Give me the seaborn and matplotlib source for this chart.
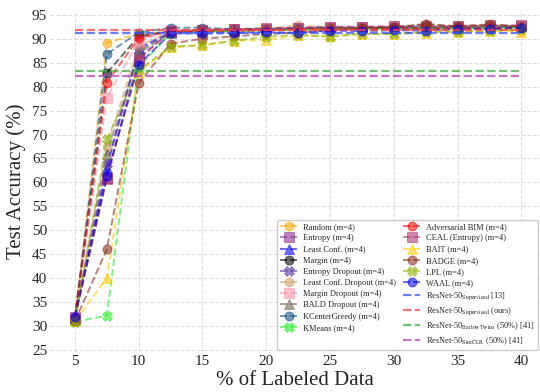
import numpy as np
import pandas as pd
import matplotlib
matplotlib.use("Agg")
import matplotlib.pyplot as plt
import seaborn as sns

pct = [5, 7.5, 10, 12.5, 15, 17.5, 20, 22.5, 25, 27.5, 30, 32.5, 35, 37.5, 40]

random_acc = [31.0, 89.2, 91.0, 91.5, 91.6, 91.7, 91.8, 92.0, 92.1, 92.0, 92.2, 92.0, 92.2, 92.1, 91.6]
entropy_acc = [32.0, 61.0, 86.0, 91.5, 91.8, 92.0, 92.0, 92.2, 92.3, 92.4, 92.3, 92.5, 92.4, 92.6, 92.7]
leastconf_acc = [32.0, 63.0, 88.0, 91.4, 91.7, 91.8, 92.0, 92.1, 92.2, 92.2, 92.3, 92.4, 92.3, 92.5, 92.6]
margin_acc = [31.8, 82.8, 90.5, 91.6, 91.8, 91.9, 92.0, 92.2, 92.3, 92.3, 92.4, 92.4, 92.5, 92.7, 92.5]
entropy_do_acc = [31.8, 63.8, 87.5, 91.3, 91.6, 91.8, 92.0, 92.1, 92.2, 92.2, 92.3, 92.3, 92.4, 92.4, 92.5]
leastconf_do_acc = [31.5, 67.4, 88.5, 91.5, 91.8, 91.9, 92.0, 92.9, 92.2, 92.3, 92.2, 92.5, 92.4, 92.5, 92.6]
margin_do_acc = [31.5, 77.7, 89.5, 91.8, 91.9, 92.0, 92.1, 92.3, 92.5, 92.4, 92.6, 92.5, 92.6, 92.7, 92.7]
bald_do_acc = [31.7, 66.0, 87.0, 91.2, 91.5, 91.6, 91.9, 92.0, 92.3, 92.2, 92.3, 93.0, 92.4, 92.5, 92.6]
kcenter_acc = [31.5, 86.8, 91.3, 92.3, 92.3, 92.0, 92.1, 92.2, 92.3, 92.2, 92.4, 92.3, 92.4, 92.3, 92.5]
kmeans_acc = [30.9, 32.2, 84.0, 91.2, 91.5, 91.6, 91.8, 91.9, 92.0, 92.1, 92.0, 92.2, 92.1, 92.3, 92.4]
advbim_acc = [31.7, 80.8, 90.2, 91.5, 91.6, 91.7, 91.8, 91.9, 92.0, 92.0, 92.1, 92.1, 92.2, 92.2, 92.3]
ceal_acc = [31.8, 60.8, 85.6, 91.6, 91.9, 92.0, 92.2, 92.3, 92.5, 92.5, 92.6, 92.6, 92.7, 92.8, 92.8]
bait_acc = [31.0, 40.0, 83.0, 88.2, 88.6, 89.6, 89.7, 90.7, 90.6, 91.0, 91.0, 91.3, 91.4, 91.6, 91.5]
badge_acc = [31.0, 46.0, 80.7, 89.0, 90.0, 90.5, 91.0, 91.3, 91.8, 92.3, 92.4, 93.1, 92.6, 93.0, 92.5]
lpl_acc = [30.8, 69.0, 83.5, 88.3, 88.7, 89.6, 90.4, 90.8, 90.4, 91.0, 91.0, 91.4, 91.5, 91.7, 92.0]
waal_acc = [32.0, 61.4, 84.6, 91.1, 91.1, 91.2, 91.4, 91.2, 91.7, 91.6, 91.8, 91.7, 92.0, 92.0, 92.3]

method_names = ["Random (m=4)", "Entropy (m=4)", "Least Conf. (m=4)", "Margin (m=4)",
                "Entropy Dropout (m=4)", "Least Conf. Dropout (m=4)", "Margin Dropout (m=4)",
                "BALD Dropout (m=4)", "KCenterGreedy (m=4)", "KMeans (m=4)",
                "Adversarial BIM (m=4)", "CEAL (Entropy) (m=4)", "BAIT (m=4)", "BADGE (m=4)",
                "LPL (m=4)", "WAAL (m=4)"]
method_values = [random_acc, entropy_acc, leastconf_acc, margin_acc, entropy_do_acc,
                 leastconf_do_acc, margin_do_acc, bald_do_acc, kcenter_acc, kmeans_acc,
                 advbim_acc, ceal_acc, bait_acc, badge_acc, lpl_acc, waal_acc]

baseline_names = [r"ResNet-50$_{\mathrm{Supervised}}$ [13]",
                  r"ResNet-50$_{\mathrm{Supervised}}$ (ours)",
                  r"ResNet-50$_{\mathrm{BarlowTwins}}$ (50%) [41]",
                  r"ResNet-50$_{\mathrm{SimCLR}}$ (50%) [41]"]
baseline_values = [91.2, 91.9, 83.3, 82.3]

# styles
method_colors = ["#FFA500", "#8A2A8A", "#0000FF", "#000000", "#4B2C9E", "#D2A060",
                 "#FF8FA8", "#6E6250", "#0E4F80", "#22EE22", "#FF0000", "#B0306A",
                 "#FFC800", "#8B2A1A", "#8DB000", "#0000EE"]
method_markers = ["o", "s", "^", "o", "X", "o", "s", "^", "o", "X", "o", "s", "^", "o", "X", "o"]
baseline_colors = ["#3355FF", "#FF4444", "#44AA44", "#BB44BB"]

sns.set_theme(style="whitegrid")
plt.rcParams["font.family"] = ["serif"]
plt.rcParams["font.serif"] = ["Liberation Serif", "DejaVu Serif"]
plt.rcParams["mathtext.fontset"] = "stix"

fig = plt.figure(figsize=(5.4, 3.92), dpi=100)
ax = fig.add_axes([50 / 540, 1 - 352 / 392, 490 / 540, 342 / 392])

for name, vals, col, mk in zip(method_names, method_values, method_colors, method_markers):
    df = pd.DataFrame({"pct": pct, "acc": vals})
    sns.lineplot(data=df, x="pct", y="acc", ax=ax, color=col, marker=mk, markersize=6.5,
                 linestyle="--", linewidth=1.4, alpha=0.58, label=name,
                 markeredgewidth=0.6, markeredgecolor=col)

for name, v, col in zip(baseline_names, baseline_values, baseline_colors):
    df = pd.DataFrame({"pct": [pct[0], pct[-1]], "acc": [v, v]})
    sns.lineplot(data=df, x="pct", y="acc", ax=ax, color=col, linestyle="--",
                 linewidth=1.6, alpha=0.75, label=name)

ax.set_xlim(3.05, 41.45)
ax.set_ylim(24.6, 96.0)
ax.set_xticks([5, 10, 15, 20, 25, 30, 35, 40])
ax.set_yticks(np.arange(25, 96, 5))
ax.tick_params(axis="both", labelsize=11, pad=2, length=0)
ax.grid(True, linestyle="--", color="#dddddd", linewidth=0.8)
for s in ax.spines.values():
    s.set_visible(False)
ax.set_xlabel("% of Labeled Data", fontsize=15, labelpad=2)
ax.set_ylabel("Test Accuracy (%)", fontsize=15, labelpad=4)

leg = ax.legend(ncol=2, loc="lower right", fontsize=6.0, frameon=True, fancybox=True,
                edgecolor="#cccccc", framealpha=1.0, borderaxespad=0.3,
                handlelength=2.0, labelspacing=0.38, columnspacing=0.9, handletextpad=0.7,
                borderpad=0.35)

fig.savefig("out.png", dpi=100)
